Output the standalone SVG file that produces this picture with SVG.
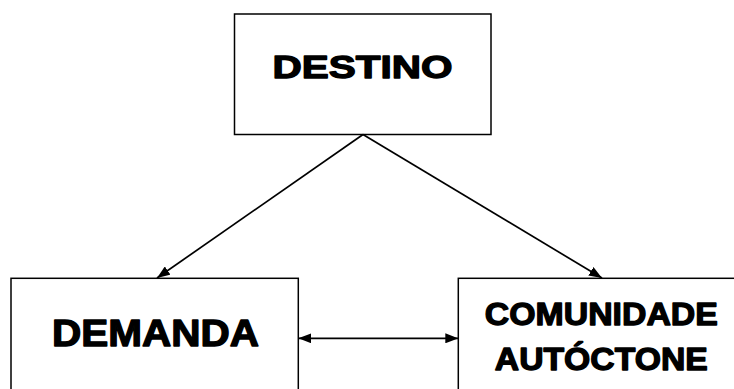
<svg xmlns="http://www.w3.org/2000/svg" width="734" height="389" viewBox="0 0 734 389">
<style>
.box{fill:#fff;stroke:#000;stroke-width:1.5}
.lbl{font-family:"Liberation Sans",Arial,sans-serif;font-weight:bold;fill:#000;stroke:#000;stroke-width:1.3;stroke-linejoin:round;text-anchor:middle}
.con{stroke:#000;stroke-width:1.7;fill:none}
</style>
<defs>
<marker id="ah" viewBox="0 0 13 10" refX="13" refY="5" markerWidth="13" markerHeight="10" markerUnits="userSpaceOnUse" orient="auto-start-reverse">
<path d="M0,0 L13,5 L0,10 Z" fill="#000"/>
</marker>
</defs>
<rect width="734" height="389" fill="#fff"/>
<g id="destino">
<rect class="box" x="234.5" y="14" width="256.5" height="120.5"/>
<text class="lbl" x="362.5" y="78" font-size="32" textLength="180" lengthAdjust="spacingAndGlyphs">DESTINO</text>
</g>
<g id="demanda">
<rect class="box" x="11" y="278.3" width="287.3" height="130"/>
<text class="lbl" x="155.5" y="345.5" font-size="36.5" textLength="207" lengthAdjust="spacingAndGlyphs">DEMANDA</text>
</g>
<g id="comunidade">
<rect class="box" x="458.3" y="278.3" width="287" height="130"/>
<text class="lbl" x="601.3" y="324.5" font-size="31.5" textLength="233" lengthAdjust="spacingAndGlyphs">COMUNIDADE</text>
<text class="lbl" x="601.3" y="369.5" font-size="31" textLength="213" lengthAdjust="spacingAndGlyphs">AUTÓCTONE</text>
</g>
<g id="connectors">
<line class="con" x1="363" y1="134.5" x2="157" y2="278" marker-end="url(#ah)"/>
<line class="con" x1="363" y1="134.5" x2="602" y2="278" marker-end="url(#ah)"/>
<line class="con" x1="298.3" y1="338.3" x2="458.3" y2="338.3" marker-start="url(#ah)" marker-end="url(#ah)"/>
</g>
</svg>
